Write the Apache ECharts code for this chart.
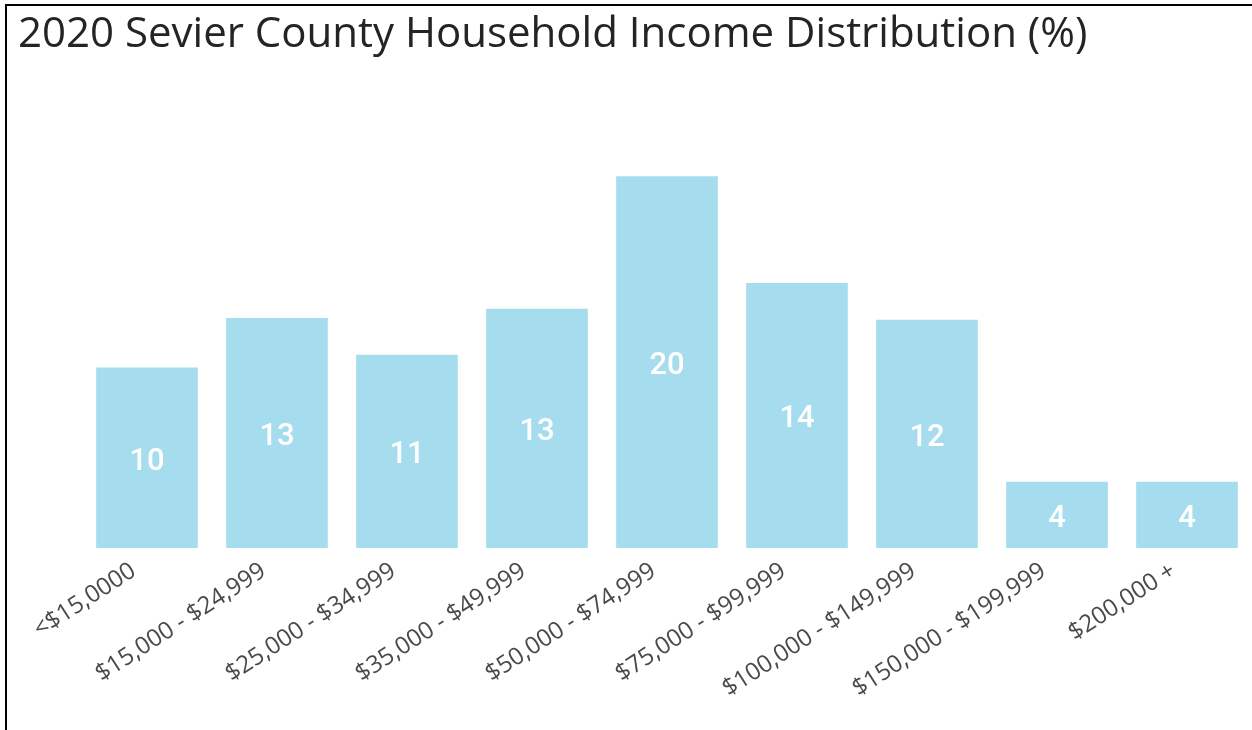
<!DOCTYPE html>
<html>
<head>
<meta charset="utf-8">
<script src="https://cdn.jsdelivr.net/npm/echarts@6/dist/echarts.min.js"></script>
<style>
html,body{margin:0;padding:0;background:#fff;}
#chart{width:1252px;height:730px;}
</style>
</head>
<body>
<div id="chart"></div>
<script>
const titleText = '2020 Sevier County Household Income Distribution (%)';
const categories = ['<$15,0000', '$15,000 - $24,999', '$25,000 - $34,999', '$35,000 - $49,999', '$50,000 - $74,999', '$75,000 - $99,999', '$100,000 - $149,999', '$150,000 - $199,999', '$200,000 +'];
const values = [9.8, 12.5, 10.5, 13.0, 20.2, 14.4, 12.4, 3.6, 3.6];

const chart = echarts.init(document.getElementById('chart'), null, {renderer: 'canvas'});
chart.setOption({
  animation: false,
  backgroundColor: '#ffffff',
  title: {
    text: titleText,
    left: 13,
    top: 9,
    textStyle: {fontFamily: 'Open Sans', fontSize: 42, fontWeight: 'normal', color: '#252423'}
  },
  graphic: [
    {type: 'rect', shape: {x: 5, y: 4, width: 1247, height: 2}, style: {fill: '#000'}},
    {type: 'rect', shape: {x: 5, y: 4, width: 2, height: 726}, style: {fill: '#000'}}
  ],
  grid: {left: 82, right: -4, top: 143, bottom: 182, containLabel: false},
  xAxis: {
    type: 'category',
    data: categories,
    axisLine: {show: false},
    axisTick: {show: false},
    axisLabel: {
      rotate: 33,
      interval: 0,
      margin: 12,
      padding: [0, 16, 0, 0],
      fontFamily: 'Open Sans',
      fontSize: 24,
      color: '#4a4a4a'
    }
  },
  yAxis: {
    type: 'value',
    min: 0,
    max: 22,
    show: false,
    splitLine: {show: false}
  },
  series: [{
    type: 'bar',
    data: values,
    barCategoryGap: '21.8%',
    itemStyle: {color: '#A6DDEE'},
    label: {
      show: true,
      position: 'inside',
      offset: [0, 4],
      formatter: p => Math.round(p.value),
      fontFamily: 'Roboto',
      fontWeight: 500,
      fontSize: 31,
      color: '#ffffff'
    }
  }]
});
</script>
</body>
</html>
